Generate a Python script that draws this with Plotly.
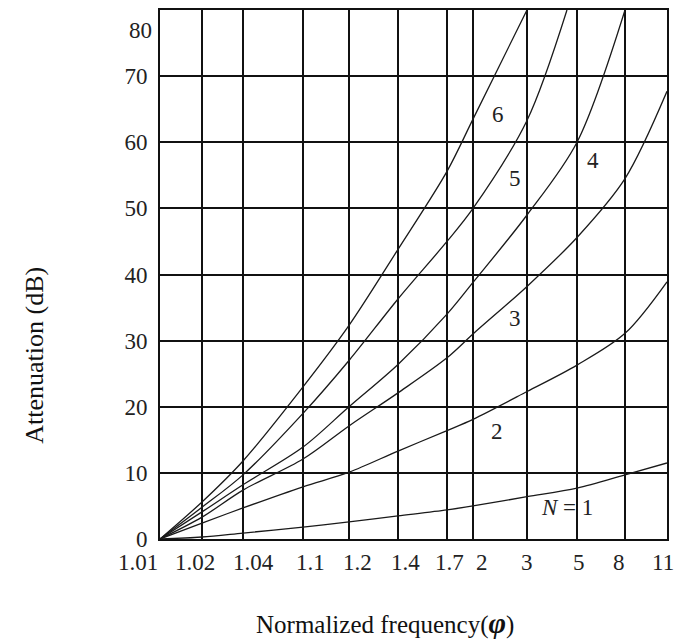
import numpy as np
import plotly.graph_objects as go

# ---------------- data ----------------
freq_ticks = [1.01, 1.02, 1.04, 1.1, 1.2, 1.4, 1.7, 2, 3, 5, 8, 11]
freq_labels = ["1.01", "1.02", "1.04", "1.1", "1.2", "1.4", "1.7", "2", "3", "5", "8", "11"]
att_ticks = [0, 10, 20, 30, 40, 50, 60, 70]
att_top_label = "80"

n1_freq = [1.01, 1.02, 1.04, 1.1, 1.2, 1.4, 1.7, 2, 3, 5, 8, 11]
n1_att = [0, 0.3, 0.9, 1.8, 2.6, 3.5, 4.4, 5.0, 6.4, 7.7, 9.7, 11.5]
n2_freq = [1.01, 1.02, 1.04, 1.1, 1.2, 1.4, 1.7, 2, 3, 5, 8, 11]
n2_att = [0, 2.4, 4.7, 7.9, 10.1, 13.3, 16.4, 18.1, 22.3, 26.3, 31.1, 38.9]
n3_freq = [1.01, 1.02, 1.04, 1.1, 1.2, 1.4, 1.7, 2, 3, 5, 8, 11]
n3_att = [0, 3.3, 7.4, 12.1, 17.1, 22.1, 27.4, 31.0, 38.2, 45.6, 54.5, 67.7]
n4_freq = [1.01, 1.02, 1.04, 1.1, 1.2, 1.4, 1.7, 2, 3, 5, 8]
n4_att = [0, 4.1, 8.2, 13.9, 20.0, 26.4, 34.0, 38.8, 49.0, 60.0, 80.0]
n5_freq = [1.01, 1.02, 1.04, 1.1, 1.2, 1.4, 1.7, 2, 3, 4.5]
n5_att = [0, 4.8, 9.7, 19.0, 27.0, 36.3, 45.0, 50.0, 63.3, 80.0]
n6_freq = [1.01, 1.02, 1.04, 1.1, 1.2, 1.4, 1.7, 2, 3]
n6_att = [0, 5.6, 11.8, 23.0, 32.3, 43.8, 55.6, 63.5, 80.0]

curve_labels = ["<i>N</i> = 1", "2", "3", "4", "5", "6"]
label_freq = [4.5, 2.37, 2.73, 5.84, 2.73, 2.39]
label_att = [4.8, 16.3, 33.4, 57.2, 54.5, 64.2]

# ---------------- the chart's printed (non-uniform) frequency scale ----------------
grid_pos = [0, 42, 83, 143, 189, 238, 287, 313, 367, 417, 465, 507]
# horizontal nudge (px) of each printed frequency label relative to its gridline
label_nudge = [-22, -7, 10, 7, 8, 7, 2, 9, 0, 2, -6, -4]


def xpos(f):
    f = np.asarray(f, dtype=float)
    return np.interp(np.log10(f ** 2 - 1),
                     np.log10(np.asarray(freq_ticks, dtype=float) ** 2 - 1),
                     grid_pos)


FONT = "Liberation Serif"
INK = "#1a1a1a"
TXT = "#222"

fig = go.Figure()
for fr, at in [(n1_freq, n1_att), (n2_freq, n2_att), (n3_freq, n3_att),
               (n4_freq, n4_att), (n5_freq, n5_att), (n6_freq, n6_att)]:
    fig.add_trace(go.Scatter(
        x=xpos(fr), y=at, mode="lines",
        line=dict(color=INK, width=1.3, shape="spline", smoothing=0.9),
        hoverinfo="skip", showlegend=False))

annotations = []
for txt, fq, at in zip(curve_labels, label_freq, label_att):
    annotations.append(dict(x=float(xpos(fq)), y=at, xref="x", yref="y", text=txt,
                            showarrow=False, font=dict(family=FONT, size=23, color=TXT)))

# frequency tick labels, placed on the axis scale at each gridline
for f, lab, dx in zip(freq_ticks, freq_labels, label_nudge):
    annotations.append(dict(x=float(xpos(f)), y=0, xref="x", yref="paper", text=lab,
                            showarrow=False, xanchor="center", yanchor="middle",
                            xshift=dx, yshift=-23, borderpad=0,
                            font=dict(family=FONT, size=23, color=TXT)))

# top "80" label (printed slightly below the top border in the original)
annotations.append(dict(x=0, y=80, xref="paper", yref="y", text=att_top_label,
                        showarrow=False, xanchor="right", yanchor="middle",
                        xshift=-6, yshift=-20,
                        font=dict(family=FONT, size=23, color=TXT)))

# axis titles
annotations.append(dict(x=0.444, y=-0.158, xref="paper", yref="paper",
                        text="Normalized frequency(<span style='font-size:30px'><b><i>φ</i></b></span>)",
                        showarrow=False, xanchor="center", yanchor="middle",
                        font=dict(family=FONT, size=25, color="#111")))
annotations.append(dict(x=-0.247, y=0.348, xref="paper", yref="paper",
                        text="Attenuation (dB)", textangle=-90,
                        showarrow=False, xanchor="center", yanchor="middle",
                        font=dict(family=FONT, size=26, color="#111")))

axis_common = dict(showgrid=True, gridcolor="#111", gridwidth=1.6,
                   showline=True, linecolor="#111", linewidth=2, mirror=True,
                   zeroline=False, ticks="", tickangle=0,
                   tickfont=dict(family=FONT, size=23, color=TXT))

fig.update_layout(
    width=680, height=641,
    margin=dict(l=160, r=13, t=8, b=102),
    paper_bgcolor="white", plot_bgcolor="white",
    xaxis=dict(range=[0, grid_pos[-1]], tickmode="array",
               tickvals=grid_pos, showticklabels=False, **axis_common),
    yaxis=dict(range=[0, 80], tickmode="array",
               tickvals=att_ticks + [80], ticktext=[str(v) for v in att_ticks] + [""],
               ticklabelstandoff=6, **axis_common),
    annotations=annotations,
)

fig.write_html("out.html")
